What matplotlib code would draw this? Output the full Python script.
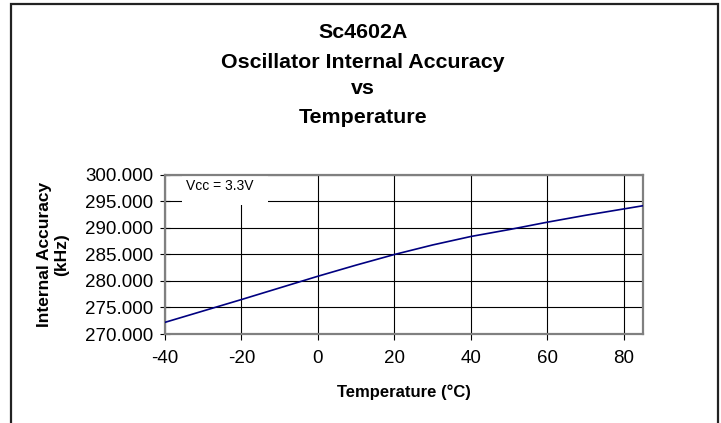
import matplotlib
matplotlib.use("Agg")
import matplotlib.pyplot as plt
from matplotlib.patches import Rectangle
from matplotlib.ticker import FormatStrFormatter

plt.rcParams['font.family'] = ['Liberation Sans', 'DejaVu Sans']
plt.rcParams['axes.unicode_minus'] = False

temperature = [-40, -20, 0, 10, 20, 30, 40, 50, 60, 70, 80, 85]
accuracy_khz = [272.2, 276.5, 280.9, 283.0, 285.0, 286.8, 288.4, 289.7, 291.1, 292.4, 293.6, 294.2]
x_ticks = [-40, -20, 0, 20, 40, 60, 80]
y_ticks = [270, 275, 280, 285, 290, 295, 300]
title_lines = ["Sc4602A", "Oscillator Internal Accuracy", "vs", "Temperature"]

fig = plt.figure(figsize=(7.21, 4.23), dpi=100)
ax = fig.add_axes([0.2288, 0.2104, 0.6630, 0.3759])

ax.plot(temperature, accuracy_khz, color='#000080', lw=1.2, zorder=3)
ax.set_xlim(-40, 85)
ax.set_ylim(270, 300)
ax.set_xticks(x_ticks)
ax.set_yticks(y_ticks)
ax.yaxis.set_major_formatter(FormatStrFormatter('%.3f'))
ax.grid(True, color='black', lw=0.8)
for s in ax.spines.values():
    s.set_color('#808080')
    s.set_linewidth(1.6)
ax.tick_params(axis='x', direction='out', length=4.5, width=0.8, color='black', labelsize=13.5, pad=7)
ax.tick_params(axis='y', direction='inout', length=7.2, width=0.8, color='black', labelsize=13.5, pad=5)

ax.add_patch(Rectangle((0.0356, 0.811), 0.18, 0.185, transform=ax.transAxes,
                       facecolor='white', edgecolor='none', zorder=2))
ax.text(-34.6, 297.9, "Vcc = 3.3V", fontsize=10, va='center', ha='left', zorder=4)

fig.text(0.5603, 0.073, "Temperature (°C)", fontsize=12, fontweight='bold', ha='center', va='center')
fig.text(0.0735, 0.398, "Internal Accuracy\n(kHz)", fontsize=12.5, fontweight='bold',
         rotation=90, ha='center', va='center', multialignment='center', linespacing=1.2)

ys = [0.922, 0.853, 0.790, 0.723]
for t, y in zip(title_lines, ys):
    fig.text(0.503, y, t, fontsize=15.4, fontweight='bold', ha='center', va='center')

fig.add_artist(Rectangle((11/721, -0.02), (718 - 11) / 721, 0.9905 + 0.02,
                         transform=fig.transFigure, facecolor='none',
                         edgecolor='#222222', lw=1.6))

fig.savefig("out.png", dpi=100)
